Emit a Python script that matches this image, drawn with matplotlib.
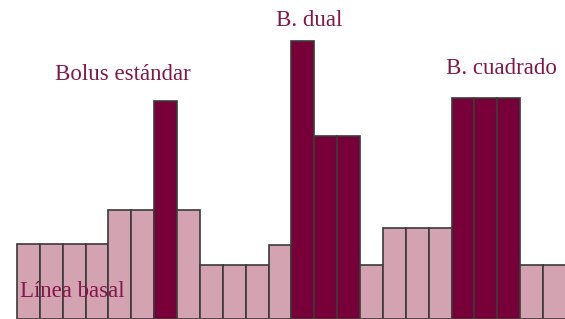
import matplotlib.pyplot as plt

# bar heights (arbitrary units, basal rate ~75)
heights = [75, 75, 75, 75, 109, 109, 218, 109, 54, 54, 54, 74,
           278, 183, 183, 54, 91, 91, 91, 221, 221, 221, 54, 54]
# which bars are bolus (dark) vs basal (light)
bolus = [0, 0, 0, 0, 0, 0, 1, 0, 0, 0, 0, 0,
         1, 1, 1, 0, 0, 0, 0, 1, 1, 1, 0, 0]

labels = ["Línea basal", "Bolus estándar", "B. dual", "B. cuadrado"]

light = "#d3a3b2"
dark = "#780039"
text_color = "#82184a"

fig = plt.figure(figsize=(5.65, 3.19), dpi=100)
ax = fig.add_axes([0, 0, 1, 1])

x = list(range(len(heights)))
colors = [dark if b else light for b in bolus]
ax.bar(x, heights, width=1.0, color=colors, edgecolor="#3a3a3a", linewidth=1.2)

ax.set_xlim(-1.243, 23.46)
ax.set_ylim(0, 319)
ax.axis("off")

font = dict(family="Liberation Serif", color=text_color, fontsize=16.5, va="baseline")
ax.text(-0.37, 22, labels[0], ha="left", **font)
ax.text(4.13, 239, labels[1], ha="center", **font)
ax.text(12.27, 293, labels[2], ha="center", **font)
ax.text(20.7, 245, labels[3], ha="center", **font)

fig.savefig("out.png", dpi=100)
